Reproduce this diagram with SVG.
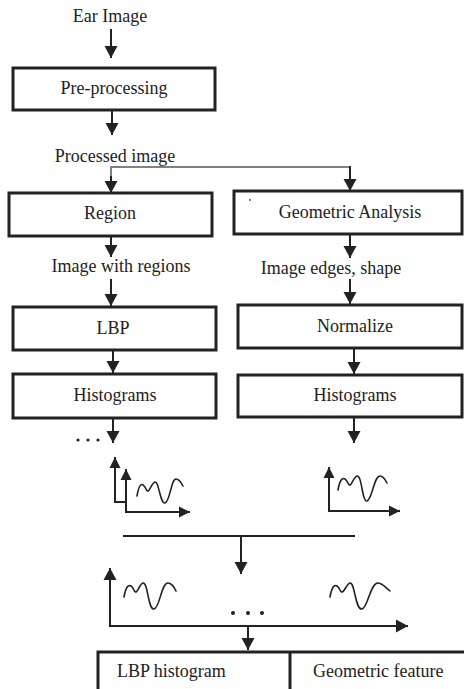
<svg xmlns="http://www.w3.org/2000/svg" width="464" height="689" viewBox="0 0 464 689">
<style>
text{font-family:'Liberation Serif','Times New Roman',serif;font-size:18px;fill:#222}
.box{fill:#fff;stroke:#222;stroke-width:3}
.ln{fill:none;stroke:#222;stroke-width:2}
.gl{fill:none;stroke:#808080;stroke-width:2}
.wv{fill:none;stroke:#222;stroke-width:1.6;stroke-linecap:round}
.c{text-anchor:middle}
</style>
<defs>
<marker id="ah" markerWidth="14" markerHeight="14" refX="12" refY="7" orient="auto" markerUnits="userSpaceOnUse"><path d="M0,0.5 L12,7 L0,13.5 Z" fill="#222"/></marker>
<marker id="sah" markerWidth="12" markerHeight="12" refX="11" refY="6" orient="auto" markerUnits="userSpaceOnUse"><path d="M0,0.5 L11,6 L0,11.5 Z" fill="#222"/></marker>
</defs>
<rect width="464" height="689" fill="#fff"/>

<g id="connectors">
<line class="ln" x1="111" y1="29" x2="111" y2="58" marker-end="url(#ah)"/>
<line class="ln" x1="112" y1="110" x2="112" y2="135" marker-end="url(#ah)"/>
<path class="gl" d="M111,176 V167 H350"/>
<line class="ln" x1="111" y1="176" x2="111" y2="193" marker-end="url(#ah)"/>
<line class="ln" x1="350" y1="166" x2="350" y2="191" marker-end="url(#ah)"/>
<line class="ln" x1="111" y1="236" x2="111" y2="257" marker-end="url(#ah)"/>
<line class="ln" x1="111" y1="279" x2="111" y2="306" marker-end="url(#ah)"/>
<line class="ln" x1="350" y1="234" x2="350" y2="258" marker-end="url(#ah)"/>
<line class="ln" x1="350" y1="279" x2="350" y2="304" marker-end="url(#ah)"/>
<line class="ln" x1="113" y1="350" x2="113" y2="373" marker-end="url(#ah)"/>
<line class="ln" x1="354" y1="348" x2="354" y2="374" marker-end="url(#ah)"/>
<line class="ln" x1="113" y1="418" x2="113" y2="443" marker-end="url(#ah)"/>
<line class="ln" x1="354" y1="417" x2="354" y2="443" marker-end="url(#ah)"/>
<line class="ln" x1="123" y1="536" x2="355" y2="536"/>
<line class="ln" x1="241" y1="536" x2="241" y2="574" marker-end="url(#ah)"/>
<line class="ln" x1="248" y1="626" x2="248" y2="650" marker-end="url(#ah)"/>
</g>

<g id="ear-image"><text class="c" x="110" y="22">Ear Image</text></g>
<g id="pre-processing"><rect class="box" x="13" y="68" width="202" height="42"/><text class="c" x="114" y="94">Pre-processing</text></g>
<g id="processed-image"><text class="c" x="115" y="162">Processed image</text></g>
<g id="region"><rect class="box" x="9" y="193" width="203" height="43"/><text class="c" x="110" y="219">Region</text></g>
<g id="geometric-analysis"><rect class="box" x="234" y="191" width="228" height="43"/><text class="c" x="350" y="218">Geometric Analysis</text><circle cx="250" cy="200" r="0.9" fill="#33f"/></g>
<g id="image-with-regions"><text class="c" x="121" y="272">Image with regions</text></g>
<g id="image-edges-shape"><text class="c" x="331" y="274">Image edges, shape</text></g>
<g id="lbp"><rect class="box" x="13" y="307" width="203" height="43"/><text class="c" x="113" y="334">LBP</text></g>
<g id="normalize"><rect class="box" x="238" y="305" width="224" height="43"/><text class="c" x="355" y="332">Normalize</text></g>
<g id="histograms-left"><rect class="box" x="13" y="374" width="203" height="44"/><text class="c" x="115" y="401">Histograms</text></g>
<g id="histograms-right"><rect class="box" x="238" y="375" width="224" height="42"/><text class="c" x="355" y="401">Histograms</text></g>
<g id="dots-left" fill="#222"><circle cx="78" cy="440" r="1.6"/><circle cx="88" cy="440" r="1.6"/><circle cx="98" cy="440" r="1.6"/></g>

<g id="chart-left">
<path class="ln" d="M125,502 H115 V457" marker-end="url(#sah)"/>
<line class="ln" x1="126" y1="512" x2="126" y2="469" marker-end="url(#sah)"/>
<line class="ln" x1="125" y1="512" x2="190" y2="512" marker-end="url(#sah)"/>
<path class="wv" d="M137,496 C139,484 142,481 146,489 C149,496 151,483 155,482 C159,481 160,504 165,503 C170,502 171,479 176,479 C179,479 181,482 183,486"/>
</g>

<g id="chart-right">
<line class="ln" x1="329" y1="512" x2="329" y2="467" marker-end="url(#sah)"/>
<line class="ln" x1="328" y1="511" x2="400" y2="511" marker-end="url(#sah)"/>
<path class="wv" d="M338,490 C340,478 344,475 348,483 C351,490 353,477 357,476 C362,475 362,502 367,501 C372,500 374,476 380,476 C383,476 385,479 387,483"/>
</g>

<g id="chart-combined">
<line class="ln" x1="110" y1="627" x2="110" y2="568" marker-end="url(#ah)"/>
<line class="ln" x1="109" y1="626" x2="408" y2="626" marker-end="url(#ah)"/>
<path class="wv" d="M124,597 C126,585 130,582 134,590 C137,597 139,584 143,583 C148,582 148,610 154,609 C160,608 161,583 168,583 C172,583 174,587 176,591"/>
<path class="wv" d="M330,597 C332,585 336,582 340,590 C343,597 346,584 350,583 C355,582 355,610 362,609 C368,608 370,583 378,583 C382,583 385,587 390,591"/>
<g fill="#222"><circle cx="233" cy="613" r="2"/><circle cx="248" cy="613" r="2"/><circle cx="262" cy="613" r="2"/></g>
</g>

<g id="feature-table">
<path class="box" d="M98,692 V652 H466"/>
<line stroke="#222" stroke-width="3" x1="290" y1="652" x2="290" y2="692"/>
<text x="117" y="677">LBP histogram</text>
<text x="313" y="677">Geometric feature</text>
</g>
</svg>
